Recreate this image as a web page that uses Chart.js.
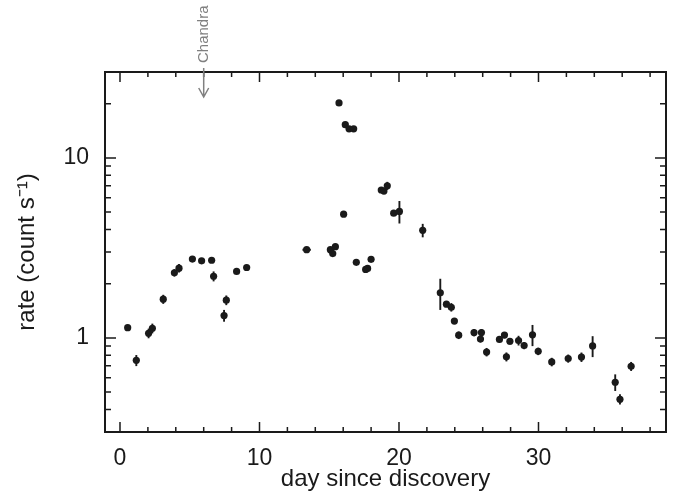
<!DOCTYPE html>
<html>
<head>
<meta charset="utf-8">
<script src="https://cdn.jsdelivr.net/npm/chart.js@4/dist/chart.umd.min.js"></script>
<style>
  html, body { margin: 0; padding: 0; background: #fff; }
  #wrap { width: 678px; height: 495px; }
</style>
</head>
<body>
<div id="wrap"><canvas id="graphique" width="678" height="495"></canvas></div>
<script>
// Light curve: count rate versus days since discovery

const days = [0.55, 1.17, 2.05, 2.32, 3.10, 3.90, 4.23, 5.19, 5.85, 6.57, 6.71, 7.46, 7.62, 8.36, 9.08,
  13.38, 15.08, 15.25, 15.44, 15.70, 16.03, 16.15, 16.42, 16.75, 16.94, 17.61, 17.75, 18.00,
  18.73, 18.92, 19.16, 19.62, 20.03, 21.70, 22.96, 23.40, 23.75, 23.97, 24.28,
  25.38, 25.84, 25.91, 26.28, 27.20, 27.56, 27.70, 27.95, 28.57, 28.97, 29.57, 29.98,
  30.95, 32.13, 33.08, 33.88, 35.50, 35.84, 36.64];

const rates = [1.14, 0.75, 1.06, 1.13, 1.64, 2.30, 2.44, 2.74, 2.68, 2.70, 2.20, 1.33, 1.62, 2.34, 2.46,
  3.09, 3.09, 2.94, 3.21, 20.2, 4.87, 15.3, 14.5, 14.5, 2.63, 2.40, 2.43, 2.73,
  6.63, 6.54, 7.0, 4.93, 5.04, 3.96, 1.78, 1.54, 1.48, 1.24, 1.035,
  1.07, 0.985, 1.07, 0.834, 0.98, 1.037, 0.785, 0.958, 0.967, 0.906, 1.04, 0.842,
  0.735, 0.768, 0.782, 0.902, 0.567, 0.456, 0.695];

const rateErr = [0.03, 0.053, 0.065, 0.07, 0.095, 0.11, 0.13, 0.06, 0.06, 0.06, 0.14, 0.10, 0.10, 0.05, 0.05,
  0.07, 0.07, 0.07, 0.07, 0.3, 0.1, 0.3, 0.3, 0.3, 0.05, 0.05, 0.05, 0.06,
  0.15, 0.15, 0.36, 0.12, 0.72, 0.34, 0.35, 0.05, 0.08, 0.04, 0.05,
  0.05, 0.04, 0.05, 0.045, 0.035, 0.04, 0.045, 0.04, 0.06, 0.04, 0.14, 0.04,
  0.04, 0.04, 0.047, 0.12, 0.06, 0.03, 0.04];

// only one point has a visible horizontal error bar
const dayErr = days.map((d, i) => (i === 15 ? 0.3 : 0));

const xMajor = [0, 10, 20, 30];
const xMinor = [2, 4, 6, 8, 12, 14, 16, 18, 22, 24, 26, 28, 32, 34, 36, 38];
const yMajor = [1, 10];
const yMinor = [0.3, 0.4, 0.5, 0.6, 0.7, 0.8, 0.9, 2, 3, 4, 5, 6, 7, 8, 9, 20, 30];

const chandraDay = 6;
const chandraLabel = 'Chandra';

const INK = '#1a1a1a';

// Error bars drawn behind the points
const errorBars = {
  id: 'errorBars',
  beforeDatasetsDraw(chart) {
    const { ctx, scales: { x, y } } = chart;
    ctx.save();
    ctx.strokeStyle = INK;
    ctx.lineWidth = 1.9;
    days.forEach((d, i) => {
      const px = x.getPixelForValue(d);
      const py = y.getPixelForValue(rates[i]);
      ctx.beginPath();
      ctx.moveTo(px, y.getPixelForValue(rates[i] - rateErr[i]));
      ctx.lineTo(px, y.getPixelForValue(rates[i] + rateErr[i]));
      if (dayErr[i] > 0) {
        ctx.moveTo(x.getPixelForValue(d - dayErr[i]), py);
        ctx.lineTo(x.getPixelForValue(d + dayErr[i]), py);
      }
      ctx.stroke();
    });
    ctx.restore();
  }
};

// Box frame with inward ticks on all four sides, plus the Chandra marker
const cadre = {
  id: 'cadre',
  afterDraw(chart) {
    const { ctx, chartArea: a, scales: { x, y } } = chart;
    ctx.save();
    ctx.strokeStyle = INK;
    ctx.lineWidth = 1.5;
    const tick = (vals, len, horiz) => {
      vals.forEach((v) => {
        ctx.beginPath();
        if (horiz) {
          const p = x.getPixelForValue(v);
          ctx.moveTo(p, a.bottom); ctx.lineTo(p, a.bottom - len);
          ctx.moveTo(p, a.top); ctx.lineTo(p, a.top + len);
        } else {
          const p = y.getPixelForValue(v);
          ctx.moveTo(a.left, p); ctx.lineTo(a.left + len, p);
          ctx.moveTo(a.right, p); ctx.lineTo(a.right - len, p);
        }
        ctx.stroke();
      });
    };
    tick(xMajor, 10, true);
    tick(xMinor, 5, true);
    tick(yMajor, 11, false);
    tick(yMinor, 6, false);
    ctx.lineWidth = 2;
    ctx.strokeRect(a.left, a.top, a.right - a.left, a.bottom - a.top);

    // Chandra arrow
    const cx = x.getPixelForValue(chandraDay);
    ctx.strokeStyle = '#808080';
    ctx.lineWidth = 1.5;
    ctx.beginPath();
    ctx.moveTo(cx, a.top - 4);
    ctx.lineTo(cx, a.top + 25);
    ctx.moveTo(cx - 5, a.top + 16);
    ctx.lineTo(cx, a.top + 25);
    ctx.lineTo(cx + 5, a.top + 16);
    ctx.stroke();
    ctx.translate(cx, a.top - 9);
    ctx.rotate(-Math.PI / 2);
    ctx.fillStyle = '#808080';
    ctx.font = '15px "Liberation Sans", Arial, sans-serif';
    ctx.textAlign = 'left';
    ctx.textBaseline = 'middle';
    ctx.fillText(chandraLabel, 0, 0);
    ctx.restore();
  }
};

const ctx = document.getElementById('graphique').getContext('2d');
const policeTicks = { family: '"Liberation Sans", Arial, sans-serif', size: 23 };
const policeTitre = { family: '"Liberation Sans", Arial, sans-serif', size: 24 };

new Chart(ctx, {
  type: 'scatter',
  data: {
    datasets: [{
      data: days.map((d, i) => ({ x: d, y: rates[i] })),
      backgroundColor: INK,
      borderColor: INK,
      pointRadius: 3.6,
      pointHoverRadius: 3.6,
      borderWidth: 0
    }]
  },
  options: {
    responsive: false,
    animation: false,
    layout: { padding: { top: 72, right: 12, left: 0, bottom: 0 } },
    plugins: { legend: { display: false }, tooltip: { enabled: false } },
    scales: {
      x: {
        type: 'linear',
        min: -1.075,
        max: 39.14,
        grid: { display: false, drawTicks: false },
        border: { display: false },
        afterBuildTicks: (s) => { s.ticks = xMajor.map((v) => ({ value: v })); },
        afterFit: (s) => { s.height = 63; },
        ticks: { color: INK, font: policeTicks, padding: 13, maxRotation: 0, callback: (v) => String(v) },
        title: { display: true, text: 'day since discovery', color: INK, font: policeTitre, padding: { bottom: 1 } }
      },
      y: {
        type: 'logarithmic',
        min: 0.3,
        max: 30,
        grid: { display: false, drawTicks: false },
        border: { display: false },
        afterBuildTicks: (s) => { s.ticks = yMajor.map((v) => ({ value: v })); },
        afterFit: (s) => { s.width = 105; },
        ticks: { color: INK, font: policeTicks, padding: 16, callback: (v) => String(v) },
        title: { display: true, text: 'rate (count s\u207B\u00B9)', color: INK, font: policeTitre, padding: { top: 13 } }
      }
    }
  },
  plugins: [errorBars, cadre]
});
</script>
</body>
</html>
